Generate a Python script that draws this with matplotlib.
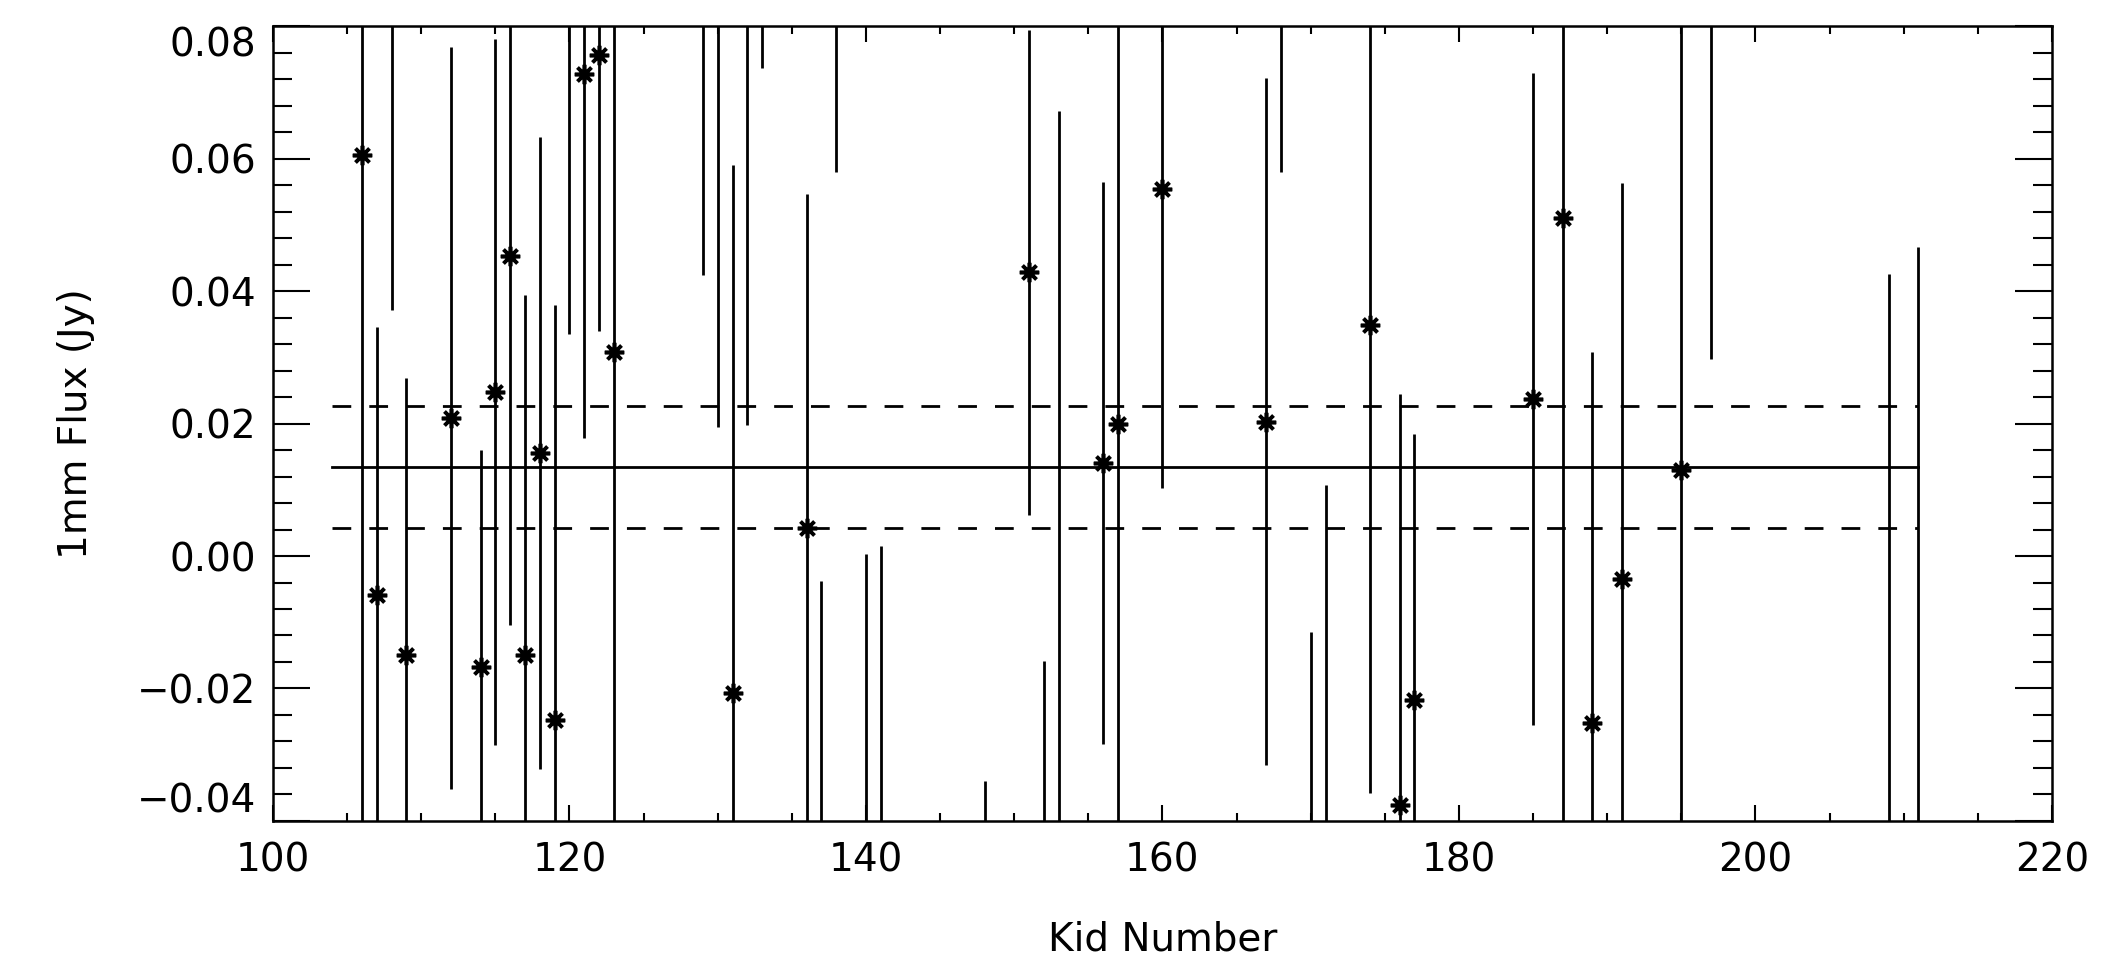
import matplotlib
matplotlib.use("Agg")
import matplotlib.pyplot as plt
from matplotlib.ticker import MultipleLocator, FuncFormatter

# kid number, 1mm flux and error
# (flux values outside -0.04..0.08 are bars whose centre falls off the plot)
kid = [106, 107, 108, 109, 112, 114, 115, 116, 117, 118, 119, 120, 121, 122,
       123, 129, 130, 131, 132, 133, 136, 137, 138, 140, 141, 148, 151, 152,
       153, 156, 157, 160, 167, 168, 170, 171, 174, 176, 177, 185, 187, 189,
       191, 195, 197, 209, 211]
flux = [0.0605, -0.0059, 0.0900, -0.0150, 0.0208, -0.0167, 0.0248, 0.0453,
        -0.0150, 0.0155, -0.0248, 0.0900, 0.0728, 0.0756, 0.0308, 0.0900,
        0.0900, -0.0207, 0.0900, 0.0900, 0.0042, -0.0500, 0.0900, -0.0500,
        -0.0500, -0.0500, 0.0428, -0.0500, -0.0500, 0.0140, 0.0199, 0.0554,
        0.0203, 0.0900, -0.0500, -0.0500, 0.0349, -0.0376, -0.0218, 0.0237,
        0.0510, -0.0252, -0.0035, 0.0130, 0.0900, -0.0500, -0.0500]
err = [0.1100, 0.0405, 0.0529, 0.0418, 0.0560, 0.0327, 0.0533, 0.0557,
       0.0544, 0.0477, 0.0627, 0.0565, 0.0550, 0.0417, 0.0800, 0.0476,
       0.0706, 0.0797, 0.0702, 0.0163, 0.0504, 0.0463, 0.0320, 0.0503,
       0.0515, 0.0160, 0.0366, 0.0342, 0.1171, 0.0424, 0.0700, 0.0452,
       0.0518, 0.0320, 0.0386, 0.0607, 0.0707, 0.0620, 0.0402, 0.0492,
       0.1000, 0.0560, 0.0598, 0.0800, 0.0602, 0.0926, 0.0966]

mean_flux = 0.0135
sigma_flux = 0.0092
line_kid = [104, 211]

y_min, y_max = -0.04, 0.08

plt.rcParams["font.family"] = ["DejaVu Sans"]
plt.rcParams["lines.scale_dashes"] = False

fig = plt.figure(figsize=(21.03, 9.61), dpi=100)
ax = fig.add_axes([0.1298, 0.1457, 0.8459, 0.8272])

lw = 2.0
ax.plot(line_kid, [mean_flux, mean_flux], color="black", lw=lw)
for s in (-1, 1):
    ax.plot(line_kid, [mean_flux + s * sigma_flux] * 2, color="black", lw=lw,
            dashes=(13.5, 13.0))

ax.errorbar(kid, flux, yerr=err, fmt="none", ecolor="black", elinewidth=lw,
            capsize=0)
ax.plot(kid, flux, linestyle="none", marker=(8, 2, 0), markersize=14,
        markeredgewidth=2.6, color="black")

ax.set_xlim(100, 220)
ax.set_ylim(y_min, y_max)
ax.xaxis.set_major_locator(MultipleLocator(20))
ax.xaxis.set_minor_locator(MultipleLocator(5))
ax.yaxis.set_major_locator(MultipleLocator(0.02))
ax.yaxis.set_minor_locator(MultipleLocator(0.004))


def fmt_flux(v, pos=None):
    return f"{v:.2f}".replace("-", "\u2212")


# end labels are drawn separately (shifted inward like the original)
def fmt_inner(v, pos=None):
    if abs(v - y_min) < 1e-9 or abs(v - y_max) < 1e-9:
        return ""
    return fmt_flux(v)


ax.yaxis.set_major_formatter(FuncFormatter(fmt_inner))

for sp in ax.spines.values():
    sp.set_linewidth(1.8)

fs = 28
ax.tick_params(axis="both", which="both", direction="in", top=True,
               right=True, width=1.5, labelsize=fs, colors="black")
ax.tick_params(axis="x", which="major", length=11.5, pad=15)
ax.tick_params(axis="x", which="minor", length=6)
ax.tick_params(axis="y", which="major", length=26.5, pad=12)
ax.tick_params(axis="y", which="minor", length=14)

ytr = ax.get_yaxis_transform()
ax.text(-0.0095, y_max, fmt_flux(y_max), transform=ytr, ha="right",
        va="top", fontsize=fs)
ax.text(-0.0095, y_min, fmt_flux(y_min), transform=ytr, ha="right",
        va="bottom", fontsize=fs)

ax.set_xlabel("Kid Number", fontsize=fs)
ax.set_ylabel("1mm Flux (Jy)", fontsize=fs)
ax.xaxis.set_label_coords(0.5, -0.125)
ax.yaxis.set_label_coords(-0.1, 0.5)

fig.savefig("out.png", dpi=100, facecolor="white")
